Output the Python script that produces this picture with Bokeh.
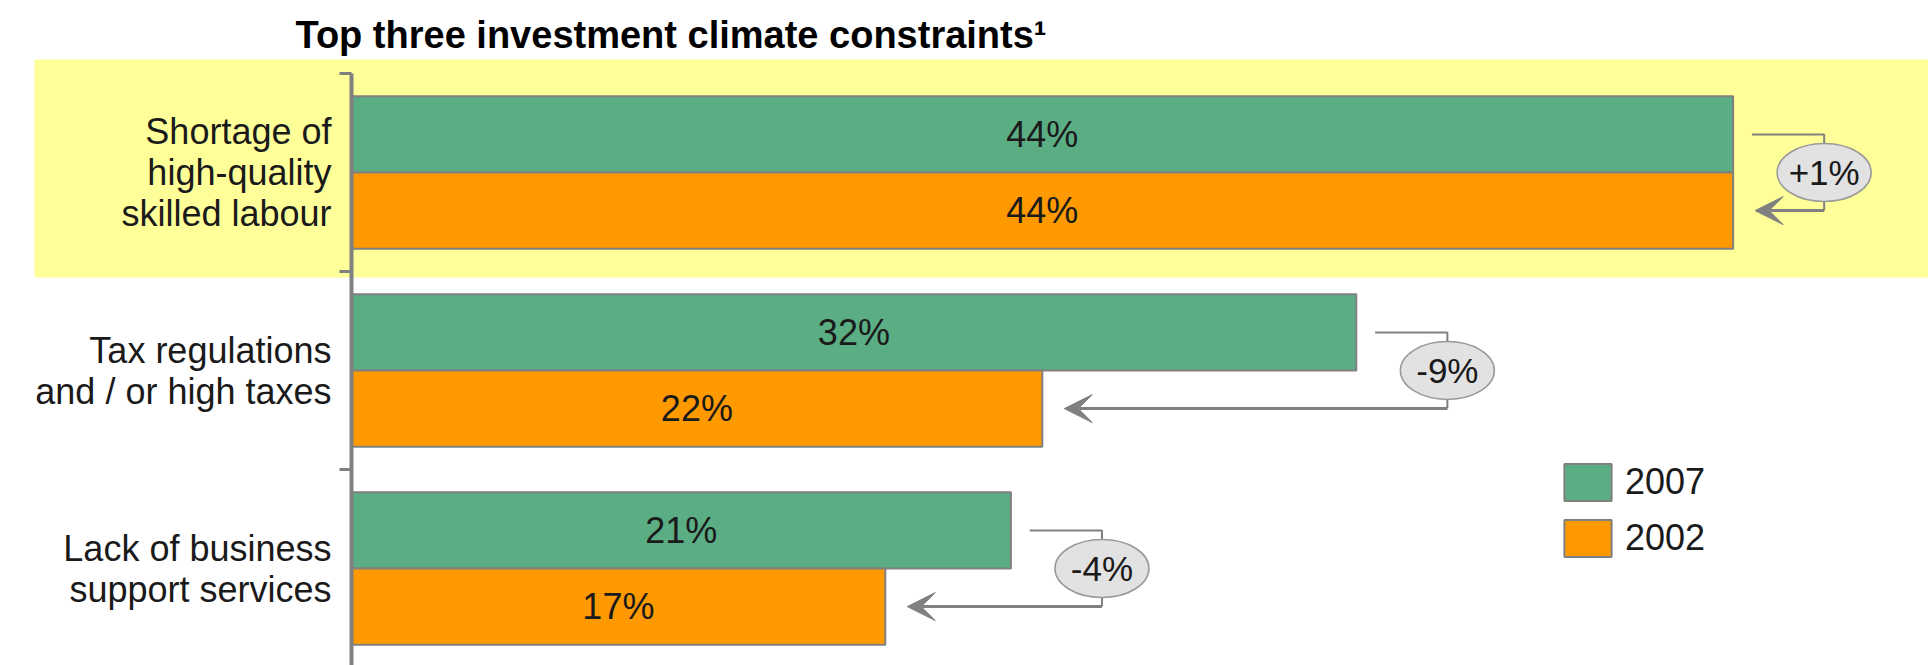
from bokeh.plotting import figure
from bokeh.models import (ColumnDataSource, Label, Legend, LegendItem, Arrow,
                          VeeHead, Range1d)
from bokeh.embed import file_html
from bokeh.resources import INLINE
from bokeh.core.properties import value

# ---- data -------------------------------------------------------------
categories = [
    "Shortage of\nhigh-quality\nskilled labour",
    "Tax regulations\nand / or high taxes",
    "Lack of business\nsupport services",
]
share_2007 = [44, 32, 21]
share_2002 = [44, 22, 17]
change_labels = ["+1%", "-9%", "-4%"]
years = ["2007", "2002"]
highlighted_row = 0
title_text = "Top three investment climate constraints\u00b9"

# ---- layout constants -------------------------------------------------
W, H = 1928, 665
PX_PER_PCT = 31.4      # horizontal scale
AXIS_PX = 351          # pixel position of the zero line
PX_PER_ROW = 198       # vertical spacing between categories
ROW0_PX = 172          # pixel centre of the first category
BAR_H = 0.385
OFF = BAR_H / 2

GREEN = "#5bad83"
ORANGE = "#ff9900"
YELLOW = "#ffff99"
GREY = "#808080"
TEXT = "#1a1a1a"
FONT_NAME = "Liberation Sans"
FONT = value(FONT_NAME)

x_range = Range1d(-AXIS_PX / PX_PER_PCT, (W - AXIS_PX) / PX_PER_PCT)
# rows run downwards: first category at the top
y_range = Range1d((H - ROW0_PX) / PX_PER_ROW, -ROW0_PX / PX_PER_ROW)

p = figure(width=W, height=H, x_range=x_range, y_range=y_range,
           output_backend="svg", toolbar_location=None,
           x_axis_location=None, y_axis_location=None, min_border=0)
p.grid.visible = False
p.outline_line_color = None
p.background_fill_color = "white"
p.border_fill_color = "white"

rows = list(range(len(categories)))

# highlight band behind the first category
p.quad(left=[(34 - AXIS_PX) / PX_PER_PCT], right=[x_range.end],
       top=[highlighted_row - 0.571], bottom=[highlighted_row + 0.53],
       fill_color=YELLOW, line_color=None)

src = ColumnDataSource(dict(
    row=rows,
    cat=categories,
    y07=[r - OFF for r in rows],
    y02=[r + OFF for r in rows],
    v07=share_2007,
    v02=share_2002,
    mid07=[v / 2 for v in share_2007],
    mid02=[v / 2 for v in share_2002],
    lab07=[f"{v:.0f}%" for v in share_2007],
    lab02=[f"{v:.0f}%" for v in share_2002],
))

r07 = p.hbar(y="y07", left=0, right="v07", height=BAR_H, source=src,
             fill_color=GREEN, line_color=GREY, line_width=2)
r02 = p.hbar(y="y02", left=0, right="v02", height=BAR_H, source=src,
             fill_color=ORANGE, line_color=GREY, line_width=2)

p.text(x="mid07", y="y07", text="lab07", source=src, text_align="center",
       text_baseline="middle", text_font=FONT, text_font_size="36px",
       text_color=TEXT)
p.text(x="mid02", y="y02", text="lab02", source=src, text_align="center",
       text_baseline="middle", text_font=FONT, text_font_size="36px",
       text_color=TEXT)

# category axis: vertical line with separators between categories
tick_len = 12 / PX_PER_PCT
p.segment(x0=[0], y0=[-0.5], x1=[0], y1=[y_range.start], line_color=GREY,
          line_width=4)
bounds = [r - 0.5 for r in rows]
p.segment(x0=[-tick_len] * len(bounds), y0=bounds, x1=[0] * len(bounds),
          y1=bounds, line_color=GREY, line_width=3)

p.text(x=[0] * len(rows), y=rows, text=categories, x_offset=-20,
       text_align="right", text_baseline="middle", text_font=FONT,
       text_font_size="36px", text_color=TEXT, text_line_height=1.0)

# change connectors: from the 2007 bar to the 2002 bar
start_x, turn_x, tip_x = [], [], []
for a, b in zip(share_2007, share_2002):
    start_x.append(a + 0.6)
    turn_x.append(max(a, b) + 2.9)
    tip_x.append(b + 0.7)

p.multi_line(xs=[[s, t, t] for s, t in zip(start_x, turn_x)],
             ys=[[r - OFF, r - OFF, r + OFF] for r in rows],
             line_color=GREY, line_width=2)

arrow_src = ColumnDataSource(dict(xs=turn_x, ys=[r + OFF for r in rows],
                                  xe=tip_x, ye=[r + OFF for r in rows]))
p.add_layout(Arrow(end=VeeHead(size=28, fill_color=GREY, line_color=GREY,
                               line_width=1),
                   x_start="xs", y_start="ys", x_end="xe", y_end="ye",
                   source=arrow_src, line_color=GREY, line_width=3))

p.ellipse(x=turn_x, y=rows, width=94, height=58, width_units="screen",
          height_units="screen", fill_color="#e2e2e2", line_color="#999999",
          line_width=1.5)
p.text(x=turn_x, y=rows, text=change_labels, text_align="center",
       text_baseline="middle", text_font=FONT, text_font_size="35px",
       text_color=TEXT)

# title
p.add_layout(Label(x=295, y=H - 34, x_units="screen", y_units="screen",
                   text=title_text, text_font=FONT_NAME,
                   text_font_size="38px", text_font_style="bold",
                   text_color="black", text_baseline="middle",
                   text_align="left"))

legend = Legend(items=[LegendItem(label=years[0], renderers=[r07]),
                       LegendItem(label=years[1], renderers=[r02])],
                location=(1558, 104), glyph_width=59, glyph_height=46,
                spacing=10, label_standoff=8, padding=0, margin=0,
                label_text_font=FONT_NAME, label_text_font_size="36px",
                label_text_color=TEXT, border_line_alpha=0,
                background_fill_alpha=0)
p.add_layout(legend)

open("out.html", "w").write(file_html(p, INLINE))
